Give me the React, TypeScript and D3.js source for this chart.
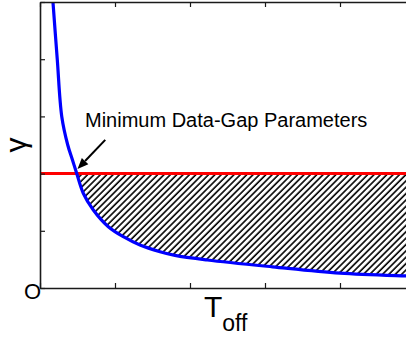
import React, { useRef, useEffect } from 'react';
import * as d3 from 'd3';

// curve (x in T_off units, y in gamma units)
const curveX = [0.17, 0.23, 0.29, 0.37, 0.43, 0.489, 0.577, 0.711, 0.911, 1.111, 1.333, 1.6, 1.8, 2.23, 3.1, 4.0, 4.9, 5.0];
const curveY = [5.05, 4.0, 3.0, 2.5, 2.25, 2.005, 1.657, 1.364, 1.072, 0.897, 0.752, 0.635, 0.57, 0.49, 0.37, 0.26, 0.21, 0.205];
const gammaMin = 2;
const xTicks = [0, 1, 2, 3, 4, 5];
const yTicks = [0, 1, 2, 3, 4, 5];
const annotation = 'Minimum Data-Gap Parameters';
const arrowFrom = [0.87, 2.59];
const arrowTo = [0.5, 2.08];

const W = 406;
const H = 339;
const margin = { top: 2, right: -9, bottom: 51, left: 40 };

const App: React.FC = () => {
  const svgRef = useRef<SVGSVGElement>(null);

  useEffect(() => {
    const svg = d3.select(svgRef.current);
    svg.selectAll('*').remove();

    const x = d3.scaleLinear().domain([0, 5]).range([margin.left, W - margin.right]);
    const y = d3.scaleLinear().domain([0, 5]).range([H - margin.bottom, margin.top]);

    const pts = curveX.map((v, i) => ({ x: v, y: curveY[i] }));
    const curve = d3.curveCatmullRom.alpha(0.5);

    const defs = svg.append('defs');
    const pat = defs.append('pattern')
      .attr('id', 'hatch')
      .attr('patternUnits', 'userSpaceOnUse')
      .attr('width', 4.5)
      .attr('height', 10)
      .attr('patternTransform', 'rotate(45)');
    pat.append('line')
      .attr('x1', 1).attr('x2', 1)
      .attr('y1', 0).attr('y2', 10)
      .attr('stroke', '#000')
      .attr('stroke-width', 1.6);

    defs.append('clipPath').attr('id', 'plotclip')
      .append('rect')
      .attr('x', margin.left).attr('y', margin.top)
      .attr('width', W - margin.right - margin.left)
      .attr('height', H - margin.bottom - margin.top);

    // only keep the part below the red line
    defs.append('clipPath').attr('id', 'belowclip')
      .append('rect')
      .attr('x', margin.left).attr('y', y(gammaMin))
      .attr('width', W - margin.right - margin.left)
      .attr('height', y(0) - y(gammaMin));

    const plot = svg.append('g').attr('clip-path', 'url(#plotclip)');

    // hatched region between the curve and the red line
    const area = d3.area<{ x: number; y: number }>()
      .x(d => x(d.x))
      .y0(y(gammaMin))
      .y1(d => y(d.y))
      .curve(curve);
    plot.append('path')
      .datum(pts)
      .attr('d', area)
      .attr('clip-path', 'url(#belowclip)')
      .attr('fill', 'url(#hatch)');

    // red threshold line
    plot.append('line')
      .attr('x1', x(0)).attr('x2', x(5))
      .attr('y1', y(gammaMin)).attr('y2', y(gammaMin))
      .attr('stroke', '#ff0000')
      .attr('stroke-width', 3);

    // blue curve
    const line = d3.line<{ x: number; y: number }>()
      .x(d => x(d.x))
      .y(d => y(d.y))
      .curve(curve);
    plot.append('path')
      .datum(pts)
      .attr('d', line)
      .attr('fill', 'none')
      .attr('stroke', '#0000ff')
      .attr('stroke-width', 3.2);

    // axes box
    const axisColor = '#1a1a1a';
    const bottom = svg.append('g')
      .attr('transform', `translate(0, ${y(0)})`)
      .call(d3.axisBottom(x).tickValues(xTicks).tickSizeInner(-5).tickSizeOuter(0).tickFormat(() => ''));
    const top = svg.append('g')
      .attr('transform', `translate(0, ${y(5)})`)
      .call(d3.axisTop(x).tickValues(xTicks).tickSizeInner(-5).tickSizeOuter(0).tickFormat(() => ''));
    const left = svg.append('g')
      .attr('transform', `translate(${x(0)}, 0)`)
      .call(d3.axisLeft(y).tickValues(yTicks).tickSizeInner(-5).tickSizeOuter(0).tickFormat(() => ''));
    [bottom, top, left].forEach(a => {
      a.selectAll('.domain').attr('stroke', axisColor).attr('stroke-width', 1.6);
      a.selectAll('.tick line').attr('stroke', axisColor).attr('stroke-width', 1.2);
    });

    const font = 'Arial, "Liberation Sans", Helvetica, sans-serif';

    // origin label
    svg.append('text')
      .attr('x', x(0) + 1)
      .attr('y', y(0) + 11)
      .attr('text-anchor', 'end')
      .attr('font-family', font)
      .attr('font-size', 22)
      .attr('fill', '#000')
      .text('O');

    // axis labels
    svg.append('text')
      .attr('transform', `translate(25.5, ${y(2.5)}) rotate(-90)`)
      .attr('text-anchor', 'middle')
      .attr('font-family', font)
      .attr('font-size', 30)
      .attr('fill', '#000')
      .text('γ');

    const xl = svg.append('text')
      .attr('x', 204)
      .attr('y', 317)
      .attr('font-family', font)
      .attr('fill', '#000');
    xl.append('tspan').attr('font-size', 30).text('T');
    xl.append('tspan').attr('font-size', 23).attr('dy', 14).text('off');

    // annotation
    svg.append('text')
      .attr('x', 85)
      .attr('y', 127)
      .attr('font-family', font)
      .attr('font-size', 20)
      .attr('fill', '#000')
      .text(annotation);

    const x1 = x(arrowFrom[0]), y1 = y(arrowFrom[1]);
    const x2 = x(arrowTo[0]), y2 = y(arrowTo[1]);
    const ang = Math.atan2(y2 - y1, x2 - x1);
    const hl = 11, hw = 4.5;
    const bx = x2 - hl * Math.cos(ang), by = y2 - hl * Math.sin(ang);
    svg.append('line')
      .attr('x1', x1).attr('y1', y1)
      .attr('x2', bx).attr('y2', by)
      .attr('stroke', '#000')
      .attr('stroke-width', 2);
    svg.append('path')
      .attr('d', `M${x2},${y2}L${bx - hw * Math.sin(ang)},${by + hw * Math.cos(ang)}L${bx + hw * Math.sin(ang)},${by - hw * Math.cos(ang)}Z`)
      .attr('fill', '#000');
  }, []);

  return (
    <svg
      ref={svgRef}
      width={W}
      height={H}
      style={{ position: 'absolute', left: 0, top: 0, background: '#fff' }}
    />
  );
};

export default App;
